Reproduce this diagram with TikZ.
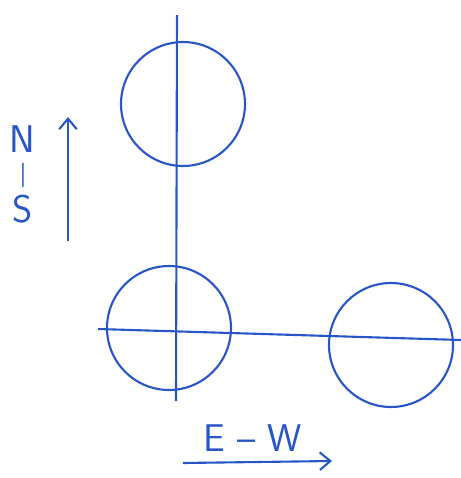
\documentclass[tikz,border=0pt]{standalone}
\usepackage{xcolor}
\usepackage{tikz}
\usetikzlibrary{arrows.meta}
\definecolor{pen}{RGB}{40,85,200}

\begin{document}
\begin{tikzpicture}[x=0.02cm,y=-0.02cm,
  ink/.style={pen, line width=1.2pt},
  tip/.style={-{Straight Barb[length=6pt,width=10pt]}},
  wheel/.style={ink, draw, circle, minimum size=2.48cm, inner sep=0pt},
  lbl/.style={pen, font=\sffamily\fontsize{22}{26}\selectfont, inner sep=0pt}]
\useasboundingbox (0,0) rectangle (461,478);
\node[wheel] (top) at (183,104){};
\node[wheel] (left) at (169,328){};
\node[wheel] (right) at (391,345){};
%
\coordinate (vtop) at (177,15);
\coordinate (vbot) at (176,401);
\draw[ink] (vtop)--(vbot);
\coordinate (hl) at (98,329);
\coordinate (hr) at (461,340);
\draw[ink] (hl)--(hr);
%
\node[lbl] (n) at (22,139){N};
\node[lbl, font=\sffamily\bfseries\fontsize{14}{16}\selectfont] (bar) at (23,175){|};
\node[lbl] (s) at (23,209){S};
\coordinate (ns0) at (68,241);
\coordinate (ns1) at (68,117);
\draw[ink, tip] (ns0)--(ns1);
%
\node[lbl] (ew) at (253,438){E -- W};
\coordinate (ew0) at (183,463);
\coordinate (ew1) at (332,461);
\draw[ink, tip] (ew0)--(ew1);
\end{tikzpicture}
\end{document}
